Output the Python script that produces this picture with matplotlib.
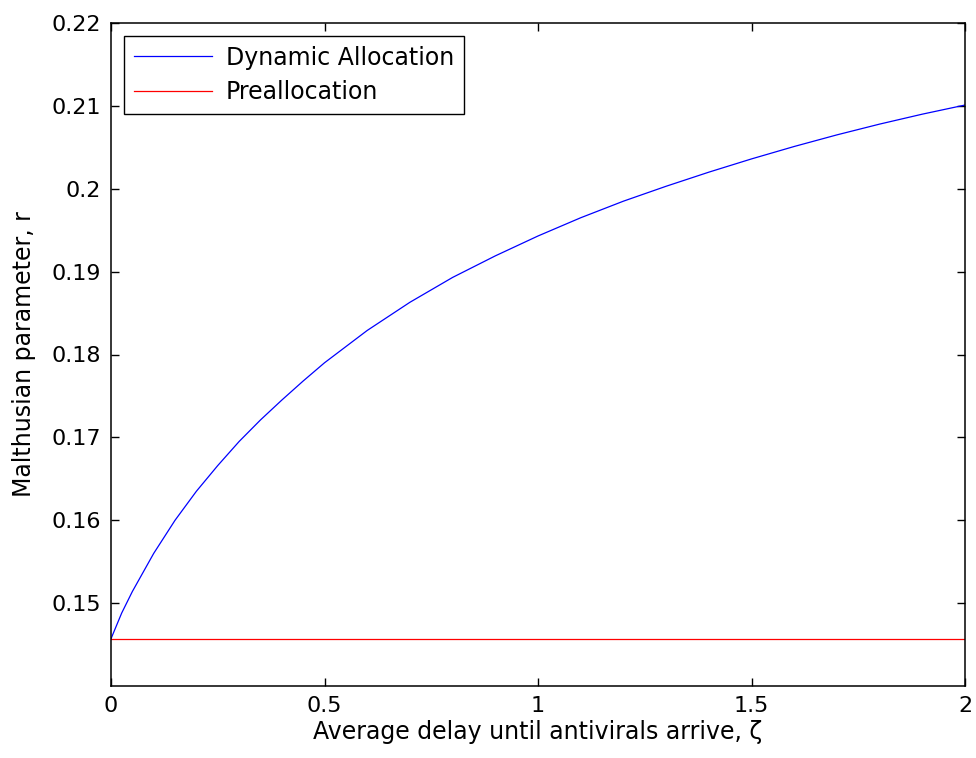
import matplotlib
matplotlib.use("Agg")
import matplotlib.pyplot as plt
import numpy as np

# Data
delay = [0.0, 0.025, 0.05, 0.1, 0.15, 0.2, 0.25, 0.3, 0.35, 0.4, 0.45, 0.5,
         0.6, 0.7, 0.8, 0.9, 1.0, 1.1, 1.2, 1.3, 1.4, 1.5, 1.6, 1.7, 1.8,
         1.9, 2.0]
dynamic = [0.1457, 0.1488, 0.1514, 0.1560, 0.1600, 0.1635, 0.1666, 0.1695,
           0.1721, 0.1745, 0.1768, 0.1790, 0.1829, 0.1863, 0.1893, 0.1919,
           0.1943, 0.1965, 0.1985, 0.2003, 0.2020, 0.2036, 0.2051, 0.2065,
           0.2078, 0.2090, 0.2101]
prealloc_x = [0.0, 2.0]
prealloc = [0.1457, 0.1457]

xticks = [0, 0.5, 1, 1.5, 2]
xticklabels = ["0", "0.5", "1", "1.5", "2"]
yticks = [0.15, 0.16, 0.17, 0.18, 0.19, 0.2, 0.21, 0.22]
yticklabels = ["0.15", "0.16", "0.17", "0.18", "0.19", "0.2", "0.21", "0.22"]

plt.rcParams['font.family'] = ['DejaVu Sans']
FS = 16
LFS = 17

fig = plt.figure(figsize=(9.76, 7.58), dpi=100)
ax = fig.add_axes([111/976, 72/758, (965-111)/976, (686-23)/758])

ax.plot(delay, dynamic, color='#0000ff', lw=0.9, label='Dynamic Allocation')
ax.plot(prealloc_x, prealloc, color='#ff0000', lw=0.9, label='Preallocation')

ax.set_xlim(0, 2)
ax.set_ylim(0.14, 0.22)
ax.set_xticks(xticks)
ax.set_xticklabels(xticklabels)
ax.set_yticks(yticks)
ax.set_yticklabels(yticklabels)
ax.tick_params(direction='in', length=6, width=1, top=True, right=True,
               labelsize=FS, pad=7, colors='black')
for s in ax.spines.values():
    s.set_linewidth(1.1)

ax.set_xlabel('Average delay until antivirals arrive, ζ', fontsize=LFS, labelpad=3)
ax.set_ylabel('Malthusian parameter, r', fontsize=LFS, labelpad=11)

leg = ax.legend(loc='upper left', fontsize=LFS, frameon=True, fancybox=False,
                edgecolor='black', framealpha=1, borderpad=0.41,
                handlelength=3.3, handletextpad=0.6, labelspacing=0.45,
                borderaxespad=0.55)
leg.get_frame().set_linewidth(1.0)

fig.savefig('out.png', dpi=100)
